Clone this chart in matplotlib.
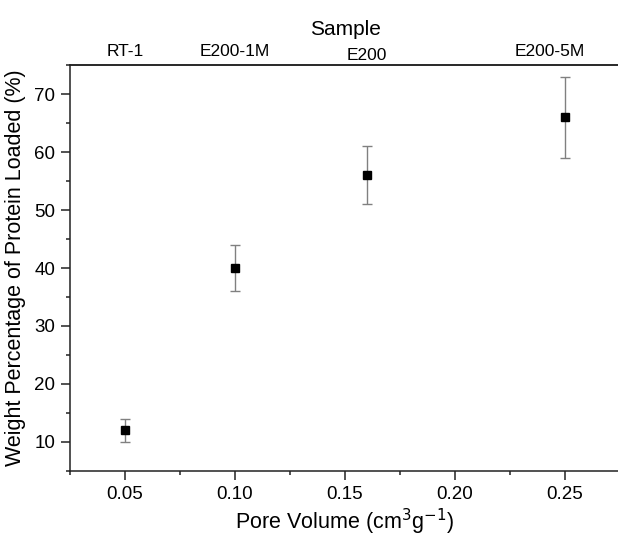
import matplotlib.pyplot as plt
import matplotlib.transforms as mtransforms
from matplotlib.ticker import MultipleLocator

plt.rcParams['font.family'] = ['Liberation Sans', 'DejaVu Sans']

pore_volume = [0.05, 0.10, 0.16, 0.25]
protein_loaded = [12, 40, 56, 66]
error = [2, 4, 5, 7]
sample_names = ['RT-1', 'E200-1M', 'E200', 'E200-5M']
sample_pos = [0.05, 0.10, 0.16, 0.243]

fig = plt.figure(figsize=(6.18, 5.41), dpi=100)
ax = fig.add_axes([70 / 618, 70 / 541, 550 / 618, 406 / 541])

ax.errorbar(pore_volume, protein_loaded, yerr=error, fmt='s', color='black',
            markersize=6, ecolor='#808080', elinewidth=1, capsize=3.5, capthick=1)

ax.set_xlim(0.025, 0.275)
ax.set_ylim(5, 75)
ax.xaxis.set_major_locator(MultipleLocator(0.05))
ax.xaxis.set_minor_locator(MultipleLocator(0.025))
ax.yaxis.set_minor_locator(MultipleLocator(5))
ax.set_yticks(range(10, 71, 10))
ax.xaxis.set_major_formatter(plt.FuncFormatter(lambda v, p: f'{v:.2f}'))

for s in ax.spines.values():
    s.set_linewidth(1.1)
    s.set_color('#222222')
ax.spines['right'].set_visible(False)

ax.tick_params(which='major', direction='out', length=6.5, width=1.1, labelsize=13.5, pad=4, color='#222222')
ax.tick_params(which='minor', direction='out', length=3, width=1.1, color='#222222')
ax.tick_params(top=False, right=False)

ax.set_xlabel('Pore Volume (cm$^3$g$^{-1}$)', fontsize=15.5, labelpad=3)
ax.set_ylabel('Weight Percentage of Protein Loaded (%)', fontsize=15.5, labelpad=6)

top = ax.secondary_xaxis('top')
top.set_xticks(sample_pos)
top.set_xticklabels(sample_names)
top.tick_params(length=0, labelsize=12.5, pad=4)
top.spines['top'].set_linewidth(1.1)
top.spines['top'].set_color('#222222')
top.set_xlabel('Sample', fontsize=15, labelpad=7)
for lab in top.get_xticklabels():
    if lab.get_text() == 'E200':
        lab.set_transform(lab.get_transform() + mtransforms.ScaledTranslation(0, -4 / 100, fig.dpi_scale_trans))

fig.savefig('out.png', dpi=100)
